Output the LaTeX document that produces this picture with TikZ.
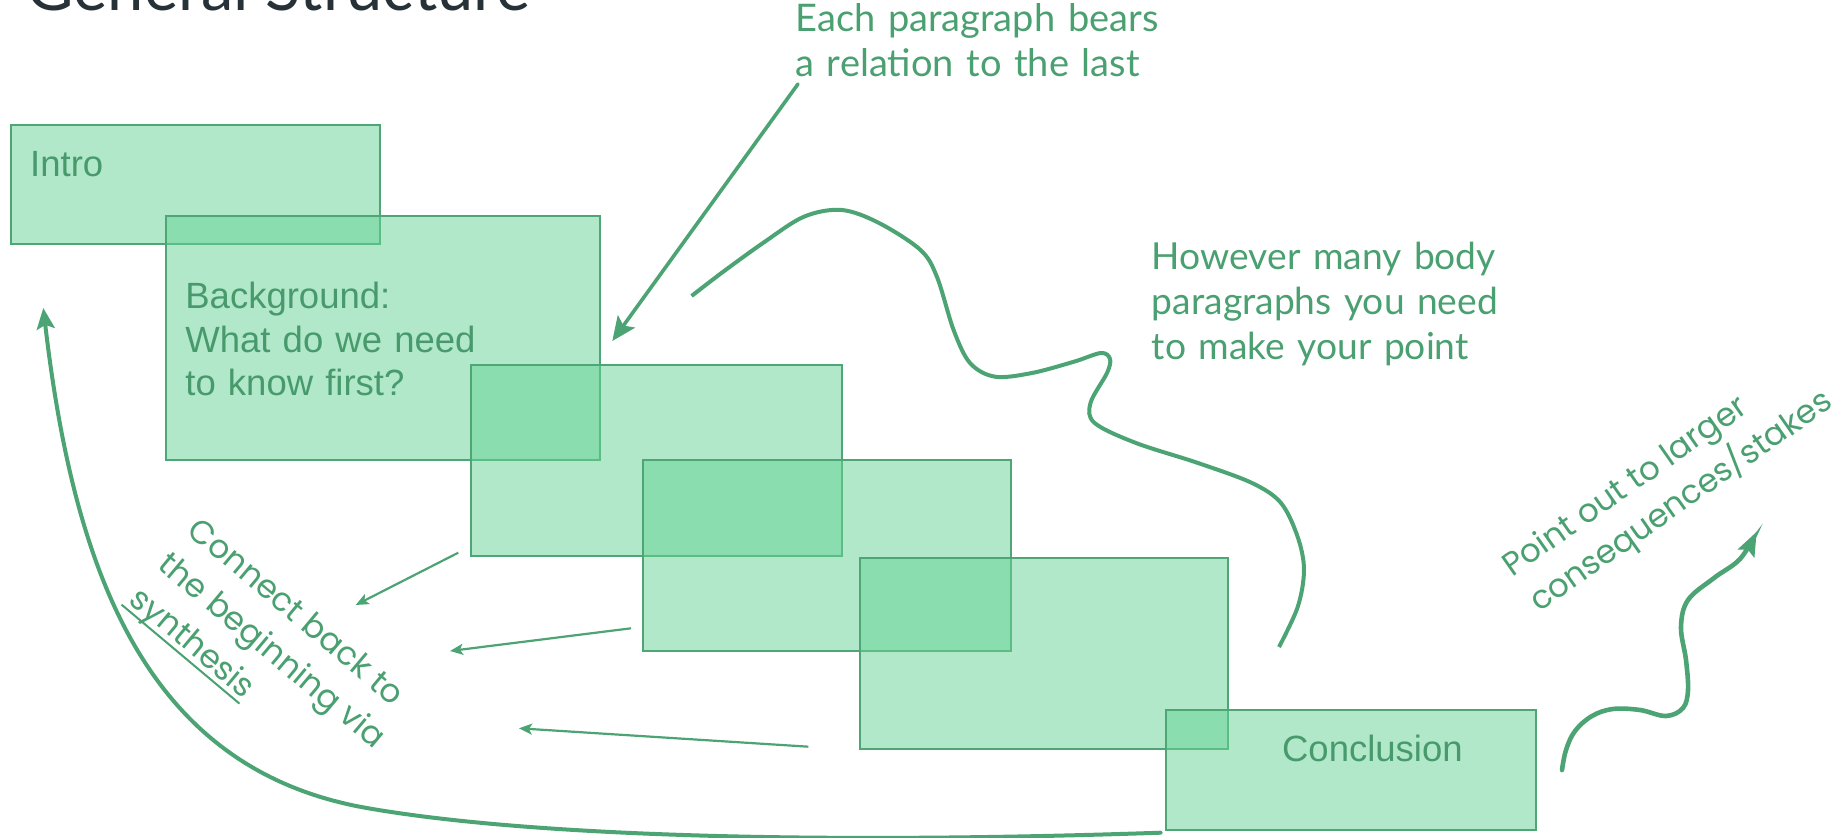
\documentclass[tikz,border=0pt]{standalone}
\usepackage{fontspec}
\setmainfont{Liberation Sans}
\newfontfamily\latofont{Lato}
\newfontfamily\popfont{Poppins}
\usetikzlibrary{arrows.meta,fit}
\definecolor{gline}{RGB}{76,163,115}
\definecolor{gtext}{RGB}{74,160,112}
\definecolor{btext}{RGB}{72,154,108}
\definecolor{bborder}{RGB}{78,165,117}
\definecolor{bfill}{RGB}{103,211,151}
\definecolor{titlecol}{RGB}{38,50,56}
\tikzset{
  parabox/.style={draw=bborder, line width=1pt, fill=bfill, fill opacity=0.52, draw opacity=1, rectangle, inner sep=0pt, outer sep=0pt},
  boxtext/.style={anchor=base west, inner sep=0pt, text=btext, font=\fontsize{18.25pt}{21.75pt}\selectfont},
  annot/.style={anchor=base west, inner sep=0pt, text=gtext, font=\latofont\fontsize{19pt}{22.25pt}\selectfont},
  rotnote/.style={anchor=base west, inner sep=0pt, text=gtext, transform shape, font=\popfont\fontsize{16.3pt}{20pt}\selectfont},
  titletext/.style={anchor=base west, inner sep=0pt, text=titlecol, font=\latofont\fontsize{32.5pt}{36pt}\selectfont},
  bigarrow/.style={draw=gline, line width=1.8pt, line cap=round, -{Stealth[length=12pt,width=10.5pt,inset=2.5pt]}},
  smallarrow/.style={draw=gline, line width=1.1pt, -{Stealth[length=6.5pt,width=5.5pt,inset=1.5pt]}},
  wavy/.style={draw=gline, line width=2pt}
}
\begin{document}
\begin{tikzpicture}[x=0.5pt,y=-0.5pt]
\useasboundingbox (0,0) rectangle (1843,838);

% title (cut off at the top edge)
\node[titletext] (title) at (26,11) {General Structure};

% paragraph boxes
\node[parabox, fit={(10.6,124.6) (379.7,244.5)}] (intro) {};
\node[parabox, fit={(165.7,216.5) (599.5,459.6)}] (background) {};
\node[parabox, fit={(471.3,365.3) (841.5,556)}] (body1) {};
\node[parabox, fit={(643,460.5) (1011,651.5)}] (body2) {};
\node[parabox, fit={(860,558) (1228.4,749)}] (body3) {};
\node[parabox, fit={(1166,710) (1535.5,830)}] (conclusion) {};

% box texts
\node[boxtext] (introtext) at (29.8,176.7) {Intro};
\node[boxtext, text width=220pt, align=left] (bgtext) at (185,309) {Background:\\What do we need\\to know first?};
\node[boxtext] (conctext) at (1281.7,761.7) {Conclusion};

% annotations
\node[annot, text width=250pt, align=left] (eachtext) at (795,31.7) {Each paragraph bears\\a relation to the last};
\node[annot, font=\latofont\fontsize{18.6pt}{22.5pt}\selectfont, text width=250pt, align=left] (howtext) at (1151.5,270) {However many body\\paragraphs you need\\to make your point};

\begin{scope}[shift={(185.5,533)}, rotate=-40]
  \node[rotnote] (conn1) at (0,0) {Connect back to};
  \node[rotnote] (conn2) at (0,45) {the beginning via};
  \node[rotnote] (conn3) at (0,90) {synthesis};
  \draw[draw=gtext, line width=1pt] (-3,96) -- (151,96);
\end{scope}

\begin{scope}[shift={(1512,578)}, rotate=35]
  \node[rotnote] (point1) at (0,0) {Point out to larger};
  \node[rotnote] (point2) at (2,44) {consequences/stakes};
\end{scope}

% arrow from the "Each paragraph" note
\coordinate (eachA) at (798,84);
\coordinate (eachB) at (612.3,341);
\draw[bigarrow] (eachA) -- (eachB);

% wavy line
\draw[wavy] plot[smooth, tension=0.55] coordinates {
  (691.6,296) (721.5,273) (763,243) (804,216.7) (841.7,210) (879,223)
  (920.5,250) (937,277) (953.6,330) (970,363) (995,376.7) (1032,373)
  (1074,361.7) (1101,353) (1110,359) (1107,373) (1090.5,403) (1094.6,423)
  (1136,443) (1198,463) (1252,483) (1281,503) (1297.7,537) (1304,570)
  (1297.7,607) (1279,647)};

% small arrows pointing back
\coordinate (s1a) at (458.3,552.7);
\coordinate (s1b) at (355.7,605);
\coordinate (s2a) at (631,628.3);
\coordinate (s2b) at (450,651);
\coordinate (s3a) at (808.3,746.7);
\coordinate (s3b) at (519,728.3);
\draw[smallarrow] (s1a) -- (s1b);
\draw[smallarrow] (s2a) -- (s2b);
\draw[smallarrow] (s3a) -- (s3b);

% large curve from the conclusion back to the intro
\coordinate (curveA) at (1160.6,832.7);
\coordinate (curveM) at (366.7,808);
\coordinate (curveB) at (43.3,308);
\draw[bigarrow, line width=2pt, -{Stealth[length=10.5pt,width=9pt,inset=2pt]}]
  (curveA) .. controls (800,845) and (520,835) .. (curveM)
           .. controls (150,770) and (75,580) .. (curveB);

% squiggle arrow out of the conclusion
\coordinate (sqA) at (1562,770);
\coordinate (sqB) at (1756.7,531.7);
\draw[bigarrow, line width=2.3pt, -{Stealth[length=12pt,width=9pt,inset=2pt]}] plot[smooth, tension=0.6] coordinates {
  (sqA) (1566,750) (1575,731) (1592,716) (1613,709) (1640,710) (1666,716)
  (1683,708) (1688,690) (1686,660) (1681,627) (1688,600) (1714,578)
  (1740,559) (sqB)};
\end{tikzpicture}
\end{document}
